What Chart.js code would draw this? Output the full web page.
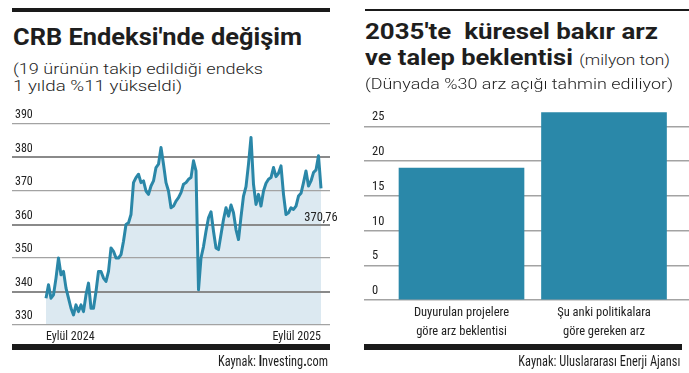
<!DOCTYPE html>
<html><head><meta charset="utf-8">
<script src="https://cdn.jsdelivr.net/npm/chart.js@4.4.1/dist/chart.umd.min.js"></script>
<style>
html,body{margin:0;padding:0;background:#fff;}
body{width:689px;height:373px;position:relative;overflow:hidden;font-family:Roboto,"Noto Sans",sans-serif;color:#1e1e1e;}
.abs{position:absolute;white-space:nowrap;}
.fit{display:inline-block;transform-origin:0 0;}
.fitr{display:inline-block;transform-origin:100% 0;}
.cond{font-family:"Roboto Condensed",Roboto,sans-serif;}
</style></head><body>
<!-- left panel -->
<div class="abs" style="left:12px;top:8px;width:318px;height:4px;background:#1a1a1a"></div>
<div class="abs" style="left:13px;top:26px;font-size:23px;font-weight:700;line-height:1;"><span class="fit" data-w="289">CRB Endeksi'nde değişim</span></div>
<div class="abs" style="left:13px;top:61px;font-size:15px;font-weight:300;line-height:17px;"><span class="fit" data-w="250">(19 ürünün takip edildiği endeks</span><br><span class="fit" data-w="169">1 yılda %11 yükseldi)</span></div>
<div class="abs" style="left:0;top:100px;width:345px;height:250px;"><canvas id="crb" width="345" height="250"></canvas></div>
<div class="abs" style="left:12px;top:344px;width:318px;height:6px;background:#1a1a1a"></div>
<div class="abs cond" style="right:361px;top:354px;font-size:14px;line-height:1;"><span class="fitr" data-w="110">Kaynak: <b>I</b>nvesting<b>.</b>com</span></div>
<!-- right panel -->
<div class="abs" style="left:365px;top:9px;width:324px;height:2px;background:#1a1a1a"></div>
<div class="abs" style="left:365px;top:21px;font-size:22px;font-weight:700;line-height:1;"><span class="fit" data-w="293">2035'te&nbsp; küresel bakır arz</span></div>
<div class="abs" style="left:365px;top:47px;font-size:22px;font-weight:700;line-height:1;"><span class="fit" data-w="305">ve talep beklentisi <span style="font-size:15px;font-weight:300;">(milyon ton)</span></span></div>
<div class="abs" style="left:345px;top:90px;width:344px;height:260px;"><canvas id="cu" width="344" height="260"></canvas></div>
<div class="abs" style="left:365px;top:77px;font-size:15px;font-weight:300;line-height:1;"><span class="fit" data-w="308">(Dünyada %30 arz açığı tahmin ediliyor)</span></div>
<div class="abs" style="left:364px;top:344px;width:318px;height:6px;background:#1a1a1a"></div>
<div class="abs cond" style="right:9px;top:354px;font-size:14px;line-height:1;"><span class="fitr" data-w="162">Kaynak: Uluslararası Enerji Ajansı</span></div>

<script>
// ---------- data ----------
const crbValues = [
 338,342,338,339,344,350,345,346,341,338,335,333,336,334,336,334,339,342.5,335,335,
 340,346,346,344,343,346,353,352,350,350,351,355,360,360.5,363,372.5,374,375,372.5,373,
 370,369,371.5,373,377,378,383,378,372.5,370,365,365.5,367,368,369.5,372,372.5,373.5,374,379,
 376,340.5,350,353.4,358,362,363.8,358,353,352.5,357,361.5,365,362.5,365.8,363.5,358.5,355.5,362.3,368.5,
 371.3,378,386,372,366,369,365.5,370,372.3,373.5,374,377,374.3,375.3,377.5,369,363,363.5,365,364.5,
 365.5,368.5,369.3,372.5,376,371.5,373,375.5,376.3,380.5,370.76
];
const crbXLabels = ['Eylül 2024', 'Eylül 2025'];
const crbYTicks = [330, 340, 350, 360, 370, 380, 390];
const crbLastLabel = '370,76';

const cuCategories = [['Duyurulan projelere', 'göre arz beklentisi'], ['Şu anki politikalara', 'göre gereken arz']];
const cuValues = [19, 27];
const cuYTicks = [0, 5, 10, 15, 20, 25];

// ---------- fonts ----------
const TICK = {family: '"Roboto Condensed", Roboto, sans-serif'};

document.querySelectorAll('.fit,.fitr').forEach(el=>{
  const w=el.getBoundingClientRect().width;
  el.style.transform='scaleX('+(+el.dataset.w/w)+')';
});

function fitArea(chart, t){
  for(let k=0;k<4;k++){
    const a=chart.chartArea, p=chart.options.layout.padding;
    p.left+=t.left-a.left; p.right+=a.right-t.right;
    p.top+=t.top-a.top; p.bottom+=a.bottom-t.bottom;
    chart.update('none');
  }
}

Chart.defaults.animation=false;
Chart.defaults.color='#222';

// ---------- left chart ----------
const N=crbValues.length;
const kL=275/(N-1);
const endLabel={id:'endLabel',afterDatasetsDraw(chart){
  const meta=chart.getDatasetMeta(0); const pt=meta.data[meta.data.length-1];
  const ctx=chart.ctx; ctx.save();
  ctx.font='12.5px '+TICK.family; ctx.fillStyle='#222'; ctx.textAlign='center'; ctx.textBaseline='alphabetic';
  ctx.fillText(crbLastLabel, pt.x, pt.y+33); ctx.restore();
}};
const crb=new Chart(document.getElementById('crb'),{
  type:'line',
  data:{datasets:[{data:crbValues.map((v,i)=>({x:i,y:v})),borderColor:'#2a87a8',borderWidth:3,pointRadius:0,
    fill:'start',backgroundColor:'#dce9f1',tension:0,borderJoinStyle:'round'}]},
  options:{responsive:false,animation:false,
    layout:{padding:{left:12,right:15,top:24,bottom:0}},
    plugins:{legend:{display:false},tooltip:{enabled:false},filler:{drawTime:'beforeDraw'}},
    scales:{
      x:{type:'linear',offset:false,min:-34/kL,max:(N-1)+9/kL,grid:{display:false,drawTicks:false},border:{display:false},
        afterBuildTicks:s=>{s.ticks=[{value:0},{value:N-1}];},
        ticks:{align:'inner',maxRotation:0,autoSkip:false,padding:5,font:{...TICK,size:12},color:'#222',
          callback:v=>v===0?crbXLabels[0]:crbXLabels[1]}},
      y:{min:330,max:390,afterBuildTicks:s=>{s.ticks=crbYTicks.map(v=>({value:v}));},
        border:{display:false},
        grid:{drawTicks:false,color:c=>(c.tick&&[340,360,380].includes(c.tick.value))?'#8a8a8a':'#a3a3a3',
          lineWidth:c=>(c.tick&&[340,360,380].includes(c.tick.value))?2:1.3},
        ticks:{mirror:true,padding:3,labelOffset:-9,font:{...TICK,size:12},color:'#222'}}
    }
  },
  plugins:[endLabel]
});
fitArea(crb,{left:12,right:330,top:24,bottom:225});

// ---------- right chart ----------
const kR=142.5;
const cu=new Chart(document.getElementById('cu'),{
  type:'bar',
  data:{datasets:[{data:cuValues.map((v,i)=>({x:i,y:v})),backgroundColor:'#2a88a9',barThickness:125,borderWidth:0}]},
  options:{responsive:false,animation:false,
    layout:{padding:{left:19,right:0,top:19,bottom:0}},
    plugins:{legend:{display:false},tooltip:{enabled:false}},
    scales:{
      x:{type:'linear',offset:false,min:-97.5/kR,max:1+85/kR,grid:{display:false,drawTicks:false,offset:false},border:{display:false},
        afterBuildTicks:s=>{s.ticks=[{value:0},{value:1}];},
        ticks:{maxRotation:0,autoSkip:false,padding:3,font:{...TICK,size:12.5,lineHeight:1.55},color:'#222',
          callback:v=>cuCategories[v]}},
      y:{min:0,max:27.5,afterBuildTicks:s=>{s.ticks=cuYTicks.map(v=>({value:v}));},
        border:{display:false},
        grid:{drawTicks:false,color:'#a3a3a3',lineWidth:1.5},
        ticks:{mirror:true,padding:8,labelOffset:-9,font:{...TICK,size:12.5},color:'#222'}}
    }
  }
});
fitArea(cu,{left:19,right:344,top:19,bottom:210});
</script>
</body></html>
